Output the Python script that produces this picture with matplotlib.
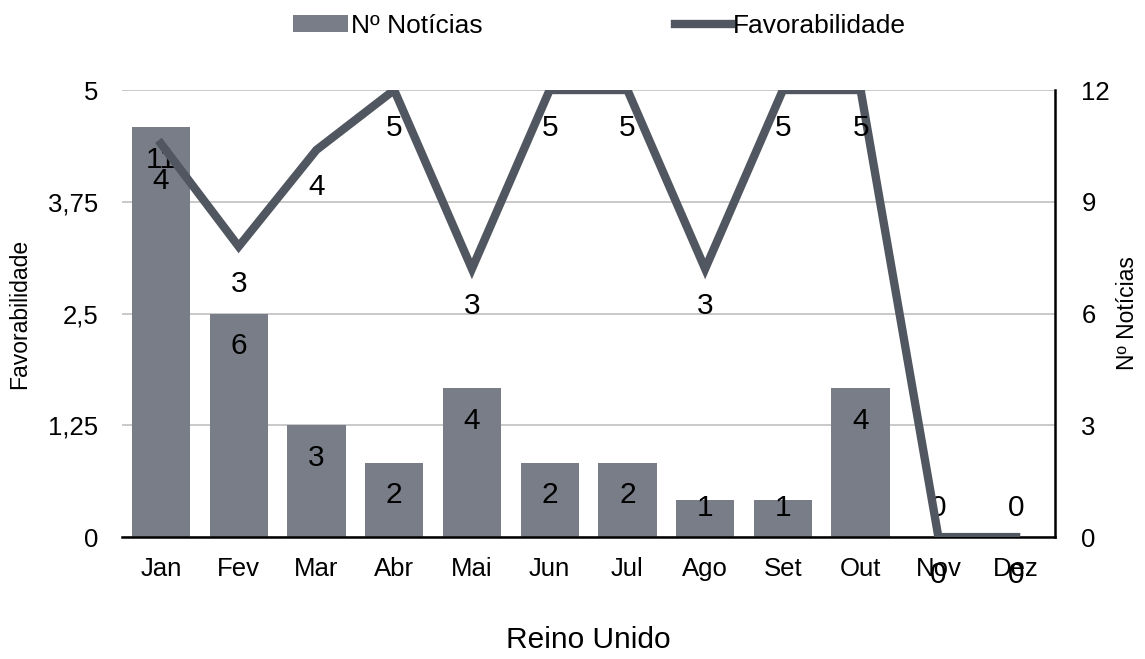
import numpy as np
import matplotlib.pyplot as plt

plt.rcParams['font.family'] = ['Liberation Sans', 'DejaVu Sans']

months = ['Jan', 'Fev', 'Mar', 'Abr', 'Mai', 'Jun', 'Jul', 'Ago', 'Set', 'Out', 'Nov', 'Dez']
noticias = [11, 6, 3, 2, 4, 2, 2, 1, 1, 4, 0, 0]
favorab = [4.4, 3.25, 4.33, 5, 3, 5, 5, 3, 5, 5, 0, 0]
fav_ticks = [0, 1.25, 2.5, 3.75, 5]
fav_ticklabels = ['0', '1,25', '2,5', '3,75', '5']
not_ticks = [0, 3, 6, 9, 12]

bar_col = '#787d87'
line_col = '#515760'

fig = plt.figure(figsize=(11.45, 6.59), dpi=100)
ax = fig.add_axes([0.1066, 0.185, 0.8148, 0.6784])
ax2 = ax.twinx()

x = np.arange(len(months))

# bars on primary axes (shown at right), line on twin (shown at left)
bars = ax.bar(x, noticias, width=0.75, color=bar_col, zorder=2, label='Nº Notícias')
ax.set_ylim(0, 12)
ax.set_yticks(not_ticks)
ax.yaxis.tick_right()
ax.yaxis.set_label_position('right')
ax.set_ylabel('Nº Notícias', fontsize=16.5, labelpad=4)
ax.tick_params(axis='y', length=0, pad=19, labelsize=18.5)
ax.grid(axis='y', color='#c0c0c0', linewidth=1.2, zorder=0)
ax.set_axisbelow(True)

for xi, v in zip(x, noticias):
    ly = max(v - 0.88, 0.78)
    ax.text(xi, ly, str(v), ha='center', va='center', fontsize=21.5, zorder=3)

line, = ax2.plot(x, favorab, color=line_col, linewidth=6, solid_joinstyle='miter',
                 zorder=4, label='Favorabilidade')
ax2.set_ylim(0, 5)
ax2.set_yticks(fav_ticks)
ax2.set_yticklabels(fav_ticklabels)
ax2.yaxis.tick_left()
ax2.yaxis.set_label_position('left')
ax2.set_ylabel('Favorabilidade', fontsize=16.5, labelpad=12)
ax2.tick_params(axis='y', length=0, pad=17, labelsize=18.5)

for xi, v in zip(x, favorab):
    ax2.annotate(f'{v:.0f}', (xi, v), xytext=(0, -27), textcoords='offset points',
                 ha='center', va='center', fontsize=21.5, zorder=5, annotation_clip=False)

ax.set_xlim(-0.5, len(months) - 0.5)
ax.set_xticks(x)
ax.set_xticklabels(months)
ax.tick_params(axis='x', length=0, pad=14, labelsize=18.5)

for a in (ax, ax2):
    for s in a.spines.values():
        s.set_visible(False)
ax2.spines['bottom'].set_visible(True)
ax2.spines['bottom'].set_color('black')
ax2.spines['bottom'].set_linewidth(1.8)
ax2.spines['right'].set_visible(True)
ax2.spines['right'].set_color('black')
ax2.spines['right'].set_linewidth(1.8)

fig.text(0.514, 0.029, 'Reino Unido', ha='center', va='center', fontsize=21.5)

fig.legend([bars, line], ['Nº Notícias', 'Favorabilidade'], loc='center',
           bbox_to_anchor=(0.5236, 0.961), ncol=2, frameon=False, fontsize=19,
           handlelength=2.1, handletextpad=0.1, columnspacing=7.3, handleheight=0.65)

fig.savefig('out.png', dpi=100)
